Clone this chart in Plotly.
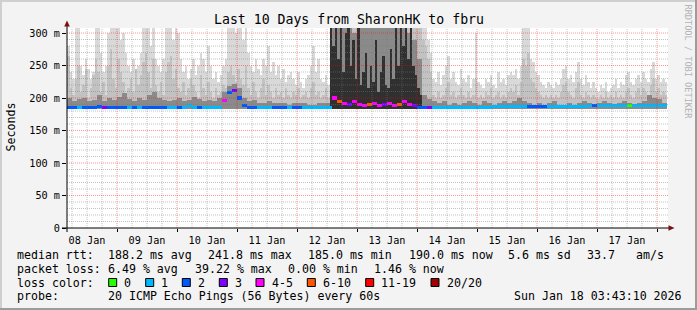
import plotly.graph_objects as go
import numpy as np
import pandas as pd

# ---------------- data ----------------
title_text = "Last 10 Days from SharonHK to fbru"
y_tick_vals = [0, 50, 100, 150, 200, 250, 300]
y_tick_text = ["0", "50 m", "100 m", "150 m", "200 m", "250 m", "300 m"]
x_start = "2026-01-08 04:00"
x_stop = "2026-01-18 04:24"
y_top = 307.7
smoke_floor = 183  # ms, lowest ping

# hourly top of light smoke (ms)
smoke_light = [
    280, 240, 230, 308, 308, 250, 235, 260, 245, 230, 240, 308, 308, 270, 240, 250, 300, 308, 308, 308,
    308, 290, 300, 270, 250, 240, 260, 230, 250, 270, 308, 308, 308, 280, 308, 260, 250, 240, 260, 308,
    308, 308, 290, 308, 300, 260, 240, 250, 230, 245, 260, 235, 250, 270, 260, 240, 280, 250, 230, 240,
    225, 235, 250, 260, 308, 308, 308, 300,
    308, 308, 290, 308, 270, 250, 240, 260, 245, 235, 260, 250, 280, 240, 255, 235, 250, 230, 245, 225,
    235, 240, 230, 220, 240, 225, 215, 230, 235, 250, 280, 240, 260, 230, 225, 235, 220,
    308, 308, 308, 308, 308, 308, 308, 308, 308, 308, 308, 295, 308, 308, 308, 308, 308, 308, 308, 308,
    308, 308, 308, 308, 308, 300, 308, 308, 308, 308, 308, 308, 308, 308, 308, 308, 308, 308, 308, 290,
    270,
    230, 225, 240, 220, 235, 250, 265, 230, 240, 225, 220, 245, 230, 225, 235, 215,
    230, 300, 225, 220, 215, 230, 225, 235, 220, 215, 240, 225, 230, 220, 235, 240,
    235, 245, 230, 250, 308, 308, 308, 260, 255, 240, 235, 225, 220, 215, 225, 220,
    215, 225, 220, 230, 245, 250, 230, 235, 225, 240, 255, 230, 220, 235, 225, 215,
    225, 215, 210, 220, 215, 225, 210, 215, 220, 230, 215, 225, 220, 235, 240, 225,
    220, 230, 235, 225, 240, 230, 225, 245, 255, 230, 235, 225, 230, 225,
]

# hourly tops of medium smoke (ms)
smoke_mid = [
    265, 215, 205, 230, 250, 210, 220, 245, 200, 215, 235, 260, 240, 210, 225, 205, 250, 275, 230, 215,
    260, 240, 225, 205, 215, 230, 210, 245, 220, 235, 255, 270, 240, 215, 260, 220, 210, 225, 205, 240,
    255, 265, 230, 245, 215, 210, 225, 205, 215, 230, 220, 210, 200, 235, 215, 205, 225, 210, 200, 215,
    205, 210, 220, 215, 240, 250, 235, 225,
    245, 230, 220, 250, 215, 205, 225, 210, 200, 215, 230, 205, 220, 210, 200, 215, 205, 210, 200, 215,
    205, 200, 210, 205, 215, 200, 205, 210, 200, 215, 225, 205, 210, 200, 205, 215, 200,
    308, 308, 308, 308, 308, 308, 308, 300, 308, 308, 308, 280, 308, 308, 308, 290, 308, 308, 308, 300,
    308, 308, 308, 290, 308, 280, 308, 308, 308, 308, 308, 308, 300, 308, 308, 308, 308, 290, 280, 260,
    240,
    205, 200, 210, 200, 205, 215, 225, 205, 210, 200, 205, 215, 205, 200, 210, 200,
    205, 230, 200, 205, 200, 210, 205, 215, 200, 205, 210, 200, 205, 200, 210, 215,
    210, 220, 205, 225, 260, 250, 270, 230, 225, 215, 210, 205, 200, 205, 200, 205,
    200, 205, 200, 210, 220, 225, 210, 205, 200, 215, 225, 205, 200, 210, 205, 200,
    205, 200, 198, 205, 200, 210, 200, 205, 200, 210, 200, 205, 200, 210, 215, 205,
    200, 210, 215, 205, 215, 210, 205, 220, 230, 210, 215, 205, 210, 205,
]

# 2-hourly tops of dark smoke (ms)
smoke_dark = [
    200, 195, 198, 200, 195, 197, 205, 195, 200, 197, 202, 208, 198, 195, 200, 197, 205, 210, 200, 197,
    195, 197, 200, 195, 197, 202, 198, 195, 197, 195, 200, 210, 218, 222,
    215, 200, 195, 197, 193, 192, 195, 192, 193, 192, 190, 193, 192, 193, 190, 190, 192, 193, 192,
    308, 308, 308, 308, 300, 308, 308, 308, 308, 308, 308, 308, 308, 308, 308, 300, 290, 260,
    205, 198,
    195, 192, 195, 190, 192, 190, 192, 195, 192, 190,
    195, 192, 190, 192, 195, 192, 195, 200, 195, 192,
    190, 192, 190, 192, 195, 190, 190, 192, 190, 192,
    195, 192, 190, 192, 195, 192, 190, 192, 195, 192,
    190, 192, 195, 205, 200, 198, 192,
]

# hourly tops of darkest smoke during the turbulent period (ms)
darkest_first_hour = 105
smoke_darkest = [
    308, 280, 308, 260, 308, 240, 300, 308, 250, 290,
    230, 308, 220, 240, 270, 215, 250, 225, 290, 210,
    240, 265, 220, 215, 275, 230, 308, 250, 308, 280,
    308, 260, 308, 250, 235, 215, 205,
]

# 2-hourly median rtt (ms)
median_rtt = [
    186, 186, 185, 186, 186, 186, 187, 186, 186, 185, 186, 186, 186, 186, 185, 186, 186, 186, 186, 186,
    186, 186, 186, 186, 188, 186, 186, 185, 185, 185, 186,
    196, 208, 212, 200, 188,
    186, 186, 186, 185, 186, 186, 186, 186, 186, 186, 185, 185, 185, 185, 185, 185, 185,
    200, 195, 192, 190, 194, 190, 188, 190, 192, 189, 190, 192, 188, 190, 195, 190, 189, 186,
    186, 186, 185, 185, 185, 185, 185, 185, 185, 186,
    186, 186, 186, 186, 187, 187, 187, 187, 187, 187,
    187, 187, 187, 187, 187, 187, 187, 187, 187, 187,
    187, 187, 187, 188, 188, 188, 188, 188, 188, 188,
    188, 188, 188, 188, 188, 188, 188, 188, 188,
]

# 2-hourly loss level index (into loss_labels)
loss_level = [
    2, 2, 1, 2, 2, 2, 2, 3, 2, 2, 2, 2, 1, 2,
    1, 2, 2, 2, 2, 2, 1, 1, 2, 1, 1, 1, 2, 1,
    1, 1, 1, 4, 2, 3, 2, 2,
    2, 2, 1, 1, 1, 2, 2, 2, 1, 2, 2, 1, 1, 1, 1, 1, 1,
    4, 5, 4, 3, 4, 4, 4, 5, 4, 4, 3, 4, 4, 5, 4, 4, 3, 2,
    2, 3, 1, 1, 1, 1, 1, 1, 1, 1,
    1, 1, 1, 1, 1, 1, 1, 1, 1, 1,
    1, 2, 2, 2, 2, 1, 1, 1, 1, 1,
    1, 1, 1, 1, 2, 1, 1, 1, 1, 1,
    1, 0, 1, 1, 1, 1, 1, 1, 1,
]

loss_labels = ["0", "1", "2", "3", "4-5", "6-10", "11-19", "20/20"]
loss_colors = ["#26ff00", "#00b8ff", "#0059ff", "#7e00ff", "#ff00ff", "#ff5500", "#ff0000", "#a10000"]

stats_rtt = ["188.2 ms avg", "241.8 ms max", "185.0 ms min", "190.0 ms now", "5.6 ms sd", "33.7", "am/s"]
stats_loss = ["6.49 % avg", "39.22 % max", "0.00 % min", "1.46 % now"]
probe_text = "20 ICMP Echo Pings (56 Bytes) every 60s"
stamp_text = "Sun Jan 18 03:43:10 2026"

# ---------------- layout geometry ----------------
W, H = 697, 310
PL, PR, PT, PB = 67, 668, 28, 228
MONO = "DejaVu Sans Mono"


def fx(px):
    return (px - PL) / (PR - PL)


def fy(py):
    return (PB - py) / (PB - PT)


HOUR = 3600000
t0 = pd.Timestamp(x_start)
t_light = t0 + pd.to_timedelta(np.arange(len(smoke_light)) + 0.5, unit="h")
t_mid = t0 + pd.to_timedelta(np.arange(len(smoke_mid)) + 0.5, unit="h")
t_2h = t0 + pd.to_timedelta(np.arange(len(median_rtt)) * 2 + 1, unit="h")
t_darkest = t0 + pd.to_timedelta(np.arange(len(smoke_darkest)) + darkest_first_hour + 0.5, unit="h")

fig = go.Figure()


def smoke_bar(t, tops, color, width):
    tops = np.asarray(tops, dtype=float)
    fig.add_trace(go.Bar(x=t, y=tops - smoke_floor, base=smoke_floor, width=width,
                         marker=dict(color=color, line=dict(width=0)), hoverinfo="skip",
                         showlegend=False))


smoke_bar(t_light, smoke_light, "#d9d9d9", HOUR)
smoke_bar(t_mid, smoke_mid, "#c2c2c2", HOUR)
smoke_bar(t_2h, smoke_dark, "#8a8a8a", 2 * HOUR)
smoke_bar(t_darkest, smoke_darkest, "#303030", HOUR)

strip = 4.8
med = np.asarray(median_rtt, dtype=float)
fig.add_trace(go.Bar(x=t_2h, y=np.full(len(med), strip), base=med - strip / 2, width=2 * HOUR,
                     marker=dict(color=[loss_colors[i] for i in loss_level], line=dict(width=0)),
                     hoverinfo="skip", showlegend=False))

shapes = []
# grid (drawn above smoke, like rrdtool)
grid_minor = "rgba(120,120,120,0.45)"
grid_major = "rgba(255,0,0,0.42)"
day0 = pd.Timestamp("2026-01-08 00:00")
t_end = pd.Timestamp(x_stop)
for k in range(0, 60):
    t = day0 + pd.Timedelta(hours=6 * k)
    if t <= t0 or t >= t_end:
        continue
    major = (t.hour == 0)
    shapes.append(dict(type="line", xref="x", yref="paper", x0=t, x1=t, y0=0, y1=1, layer="above",
                       line=dict(color=grid_major if major else grid_minor, width=1, dash="1px,1px")))
for v in range(10, 310, 10):
    major = (v % 50 == 0)
    shapes.append(dict(type="line", xref="paper", yref="y", x0=0, x1=1, y0=v, y1=v, layer="above",
                       line=dict(color=grid_major if major else grid_minor, width=1, dash="1px,1px")))

# axis lines and arrows
shapes.append(dict(type="line", xref="paper", yref="paper", x0=fx(62), x1=fx(670), y0=fy(228), y1=fy(228),
                   line=dict(color="black", width=1), layer="above"))
shapes.append(dict(type="line", xref="paper", yref="paper", x0=fx(67), x1=fx(67), y0=fy(232), y1=fy(24),
                   line=dict(color="black", width=1), layer="above"))
arrow_col = "#7a1010"
shapes.append(dict(type="path", xref="paper", yref="paper",
                   path=f"M {fx(64.2)} {fy(26.5)} L {fx(69.8)} {fy(26.5)} L {fx(67)} {fy(20.5)} Z",
                   fillcolor=arrow_col, line=dict(width=0), layer="above"))
shapes.append(dict(type="path", xref="paper", yref="paper",
                   path=f"M {fx(668.5)} {fy(225.2)} L {fx(668.5)} {fy(230.8)} L {fx(674.5)} {fy(228)} Z",
                   fillcolor=arrow_col, line=dict(width=0), layer="above"))

# frame (3D shade)
shade_a, shade_b = "#cfcfcf", "#9c9c9c"
shapes.append(dict(type="rect", xref="paper", yref="paper", x0=fx(0), x1=fx(W), y0=fy(0), y1=fy(2),
                   fillcolor=shade_a, line=dict(width=0), layer="below"))
shapes.append(dict(type="rect", xref="paper", yref="paper", x0=fx(0), x1=fx(2), y0=fy(0), y1=fy(H),
                   fillcolor=shade_a, line=dict(width=0), layer="below"))
shapes.append(dict(type="rect", xref="paper", yref="paper", x0=fx(0), x1=fx(W), y0=fy(H - 2), y1=fy(H),
                   fillcolor=shade_b, line=dict(width=0), layer="below"))
shapes.append(dict(type="rect", xref="paper", yref="paper", x0=fx(W - 2), x1=fx(W), y0=fy(0), y1=fy(H),
                   fillcolor=shade_b, line=dict(width=0), layer="below"))

annotations = []


def text(px, py, s, size=11.6, color="black", anchor="left", angle=0):
    annotations.append(dict(xref="paper", yref="paper", x=fx(px), y=fy(py), text=s, showarrow=False,
                            xanchor=anchor, yanchor="middle", borderpad=0, textangle=angle,
                            font=dict(family=MONO, size=size, color=color)))


text(348.5, 19.5, title_text, size=13.2, anchor="center")
text(10.5, 127, "Seconds", anchor="center", angle=-90)
text(687.5, 62, "RRDTOOL / TOBI OETIKER", size=8.6, color="#b4b4b4", anchor="center", angle=90)

row_y = [254.5, 268.5, 282.5, 296]
text(16, row_y[0], "median rtt:")
for px, s in zip([107, 207, 307, 408.3, 506.7, 586, 635], stats_rtt):
    text(px, row_y[0], s)
text(16, row_y[1], "packet loss:")
for px, s in zip([107, 194, 287, 373], stats_loss):
    text(px, row_y[1], s)
text(16, row_y[2], "loss color:")
box_x = [108.7, 145.7, 182.3, 219.3, 256, 307.3, 365.7, 431]
for bx, lab, col in zip(box_x, loss_labels, loss_colors):
    shapes.append(dict(type="rect", xref="paper", yref="paper", x0=fx(bx), x1=fx(bx + 8),
                       y0=fy(row_y[2] - 4), y1=fy(row_y[2] + 4), fillcolor=col,
                       line=dict(color="black", width=1), layer="above"))
    text(bx + 14.5, row_y[2], lab)
text(16, row_y[3], "probe:")
text(107, row_y[3], probe_text)
text(513.3, row_y[3], stamp_text)

fig.update_layout(
    width=W, height=H,
    margin=dict(l=PL, r=W - PR, t=PT, b=H - PB, pad=0),
    paper_bgcolor="#f3f3f3", plot_bgcolor="white",
    barmode="overlay", bargap=0,
    showlegend=False,
    shapes=shapes, annotations=annotations,
    font=dict(family=MONO, color="black"),
    xaxis=dict(type="date", range=[x_start, x_stop], dtick=86400000, tick0="2026-01-08",
               tickformat="%d %b", ticklabelmode="period", showgrid=False, zeroline=False,
               showline=False, ticks="outside", ticklen=3, tickcolor="black",
               tickfont=dict(family=MONO, size=10.2, color="black"), fixedrange=True),
    yaxis=dict(range=[0, y_top], tickvals=y_tick_vals, ticktext=y_tick_text, showgrid=False,
               zeroline=False, showline=False, ticks="outside", ticklen=4, tickcolor="black",
               tickfont=dict(family=MONO, size=10.2, color="black"), fixedrange=True),
)

fig.write_html("out.html", config={"displayModeBar": False})
